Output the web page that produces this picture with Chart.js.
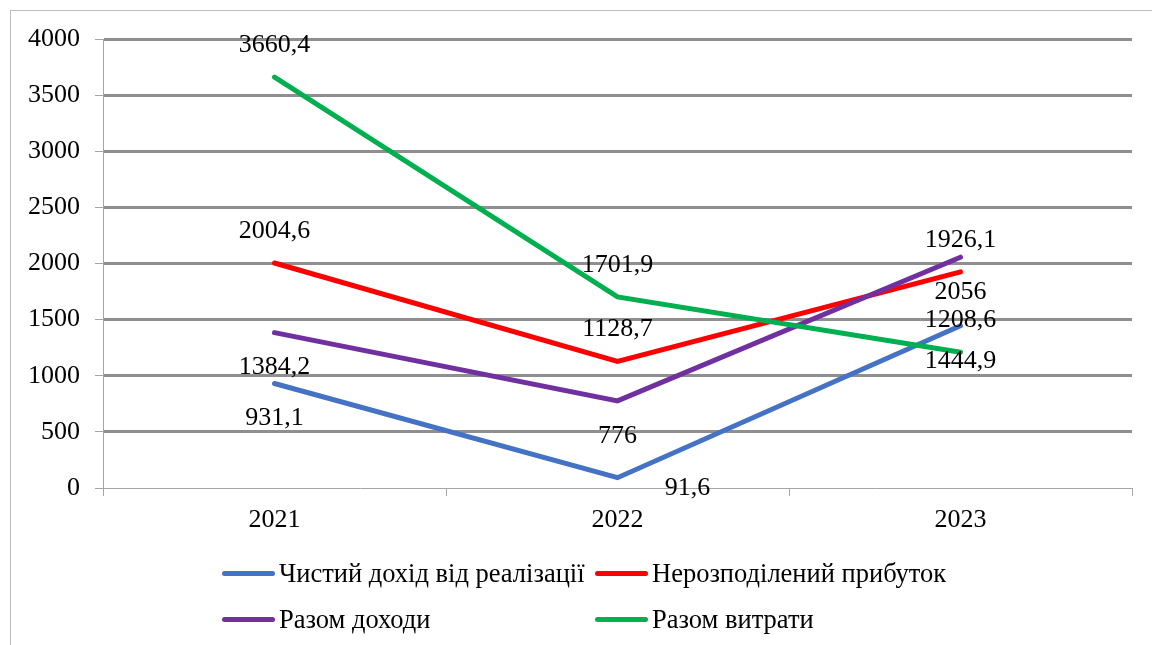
<!DOCTYPE html>
<html>
<head>
<meta charset="utf-8">
<script src="https://cdn.jsdelivr.net/npm/chart.js@4.4.0/dist/chart.umd.min.js"></script>
<style>
  html, body { margin: 0; padding: 0; background: #fff; }
  #wrap { position: relative; width: 1152px; height: 645px; overflow: hidden; }
  #frame { position: absolute; left: 10px; top: 10px; right: -5px; bottom: -5px; border-top: 1px solid #bfbfbf; border-left: 1px solid #bfbfbf; }
  canvas { position: absolute; left: 0; top: 0; }
  .leg { position: absolute; font-family: 'Liberation Serif', 'Times New Roman', serif; font-size: 26.5px; color: #000; white-space: nowrap; line-height: 1; }
  .leg .sw { position: absolute; width: 53px; height: 5px; border-radius: 3px; }
</style>
</head>
<body>
<div id="wrap">
  <div id="frame"></div>
  <canvas id="chart" width="1152" height="645"></canvas>
  <div id="legend"></div>
</div>
<script>
// ---------- data ----------
const years = ['2021', '2022', '2023'];
const netIncome = [931.1, 91.6, 1444.9];        // Чистий дохід від реалізації
const retainedProfit = [2004.6, 1128.7, 1926.1]; // Нерозподілений прибуток
const totalIncome = [1384.2, 776, 2056];         // Разом доходи
const totalExpenses = [3660.4, 1701.9, 1208.6];  // Разом витрати
const yMin = 0, yMax = 4000, yStep = 500;

const FONT = "'Liberation Serif', 'Times New Roman', serif";

// value labels drawn next to each point (comma decimal, like the source)
const pointLabels = {
    id: 'pointLabels',
    afterDatasetsDraw(chart) {
        const ctx = chart.ctx;
        ctx.save();
        ctx.font = '26px ' + FONT;
        ctx.fillStyle = '#000';
        ctx.textAlign = 'center';
        ctx.textBaseline = 'middle';
        chart.data.datasets.forEach((ds, i) => {
            chart.getDatasetMeta(i).data.forEach((pt, j) => {
                const dy = ds.labelPos === 'above' ? -32 : 35;
                const shift = (ds.labelShift && ds.labelShift[j]) || [0, 0];
                ctx.fillText(String(ds.data[j]).replace('.', ','), pt.x + shift[0], pt.y + dy + shift[1]);
            });
        });
        ctx.restore();
    }
};

const series = [
    { label: 'Чистий дохід від реалізації', data: netIncome, color: '#4472c4', labelPos: 'below', labelShift: [null, [70, -25], null], order: 3 },
    { label: 'Нерозподілений прибуток', data: retainedProfit, color: '#ff0000', labelPos: 'above', order: 2 },
    { label: 'Разом доходи', data: totalIncome, color: '#7030a0', labelPos: 'below', order: 1 },
    { label: 'Разом витрати', data: totalExpenses, color: '#00b050', labelPos: 'above', order: 0 }
];

new Chart(document.getElementById('chart'), {
    type: 'line',
    data: {
        labels: years,
        datasets: series.map(s => ({
            label: s.label,
            data: s.data,
            borderColor: s.color,
            backgroundColor: s.color,
            borderWidth: 5,
            borderCapStyle: 'round',
            pointRadius: 0,
            tension: 0,
            fill: false,
            labelPos: s.labelPos,
            labelShift: s.labelShift,
            order: s.order
        }))
    },
    options: {
        responsive: false,
        animation: false,
        layout: { padding: { left: 0, top: 39, right: 20, bottom: 0 } },
        plugins: { legend: { display: false }, tooltip: { enabled: false } },
        scales: {
            x: {
                offset: true,
                afterFit: a => { a.height = 157; },
                grid: { display: true, drawOnChartArea: false, offset: true, tickLength: 8, color: '#a6a6a6', lineWidth: 1 },
                border: { color: '#a6a6a6', width: 1 },
                ticks: { color: '#000', font: { family: FONT, size: 26 }, padding: 9 }
            },
            y: {
                min: yMin,
                max: yMax,
                afterFit: a => { a.width = 103; },
                grid: {
                    color: c => (c.tick && c.tick.value === 0) ? 'rgba(0,0,0,0)' : '#8f8f8f',
                    lineWidth: 3,
                    tickColor: '#a6a6a6',
                    tickWidth: 1,
                    tickLength: 8
                },
                border: { color: '#a6a6a6', width: 1 },
                ticks: { stepSize: yStep, color: '#000', font: { family: FONT, size: 26 }, padding: 15, callback: v => String(v) }
            }
        }
    },
    plugins: [pointLabels]
});

// ---------- legend (two columns, two rows) ----------
const legCols = [222, 595];
const legRows = [573, 619];
const legend = document.getElementById('legend');
series.forEach((s, i) => {
    const x = legCols[i % 2], y = legRows[Math.floor(i / 2)];
    const item = document.createElement('div');
    item.className = 'leg';
    item.style.left = x + 'px';
    item.style.top = (y - 13) + 'px';
    item.innerHTML = `<span class="sw" style="background:${s.color};left:0;top:11px"></span><span style="margin-left:57px">${s.label}</span>`;
    legend.appendChild(item);
});
</script>
</body>
</html>
